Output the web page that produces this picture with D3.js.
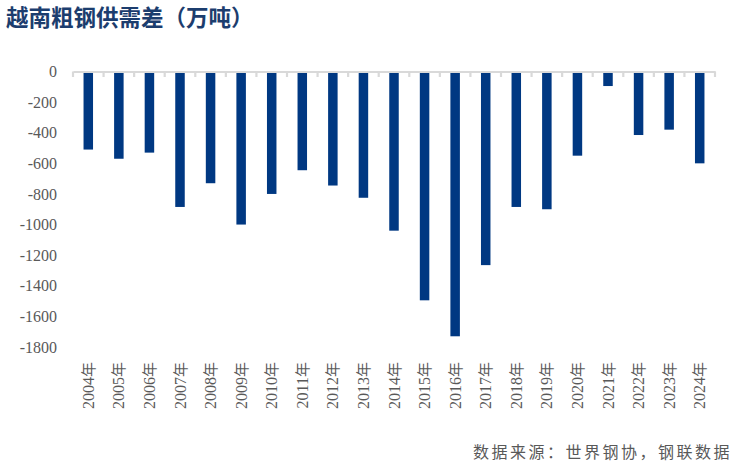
<!DOCTYPE html>
<html>
<head>
<meta charset="utf-8">
<script src="https://cdn.jsdelivr.net/npm/d3@7"></script>
<style>
  body { margin: 0; background: #fff; }
  svg { display: block; }
</style>
</head>
<body>
<div id="chart"></div>
<script>
// data
const years = ["2004年", "2005年", "2006年", "2007年", "2008年", "2009年", "2010年",
  "2011年", "2012年", "2013年", "2014年", "2015年", "2016年", "2017年",
  "2018年", "2019年", "2020年", "2021年", "2022年", "2023年", "2024年"];
const gap = [-510, -570, -530, -885, -730, -1000, -800,
  -645, -745, -825, -1040, -1495, -1730, -1265,
  -885, -900, -550, -95, -415, -380, -600];
const yTicks = [0, -200, -400, -600, -800, -1000, -1200, -1400, -1600, -1800];

const W = 738, H = 472;
const margin = {top: 71.5, left: 73, right: 23};
const plotBottom = 347;

const svg = d3.select("#chart").append("svg")
    .attr("width", W)
    .attr("height", H);

const x = d3.scaleBand()
    .domain(years)
    .range([margin.left, W - margin.right]);

const y = d3.scaleLinear()
    .domain([0, -1800])
    .range([margin.top, plotBottom]);

const barWidth = 9.5;

// title
svg.append("text")
    .attr("x", 6)
    .attr("y", 26)
    .attr("font-family", "'Noto Sans CJK SC'")
    .attr("font-weight", "bold")
    .attr("font-size", 22.5)
    .attr("fill", "#1c3d6e")
    .text("越南粗钢供需差（万吨）");

// y axis labels (no line)
svg.selectAll("text.yAxis")
    .data(yTicks)
    .enter().append("text")
    .attr("class", "yAxis")
    .attr("x", 57)
    .attr("y", d => y(d))
    .attr("dy", "0.35em")
    .attr("text-anchor", "end")
    .attr("font-family", "'Liberation Serif', serif")
    .attr("font-size", 16)
    .attr("fill", "#595959")
    .text(d => d);

// bars
svg.selectAll("rect.bar")
    .data(gap)
    .enter().append("rect")
    .attr("class", "bar")
    .attr("x", (d, i) => x(years[i]) + x.bandwidth() / 2 - barWidth / 2)
    .attr("y", y(0))
    .attr("width", barWidth)
    .attr("height", d => y(d) - y(0))
    .attr("fill", "#003882");

// category axis at zero
const xAxis = d3.axisTop(x).tickSize(0).tickFormat("");
const gx = svg.append("g")
    .attr("transform", `translate(0,${y(0)})`)
    .call(xAxis);
gx.select(".domain").attr("stroke", "#d9d9d9").attr("stroke-width", 2.2);

// tick marks between categories
const edges = years.map(d => x(d)).concat([x.range()[1]]);
svg.selectAll("line.tick")
    .data(edges)
    .enter().append("line")
    .attr("class", "tick")
    .attr("x1", d => d)
    .attr("x2", d => d)
    .attr("y1", y(0))
    .attr("y2", y(0) + 5.5)
    .attr("stroke", "#d9d9d9")
    .attr("stroke-width", 2.2);

// year labels, rotated
svg.selectAll("text.xLabel")
    .data(years)
    .enter().append("text")
    .attr("class", "xLabel")
    .attr("transform", d => `translate(${x(d) + x.bandwidth() / 2 + 5.5},362) rotate(-90)`)
    .attr("text-anchor", "end")
    .attr("fill", "#595959")
    .attr("font-size", 16)
    .each(function(d) {
      const t = d3.select(this);
      t.append("tspan").attr("font-family", "'Liberation Serif', serif").text(d.slice(0, 4));
      t.append("tspan").attr("font-family", "'Noto Sans CJK SC'").attr("font-size", 15).text(d.slice(4));
    });

// source note
svg.append("text")
    .attr("x", 732)
    .attr("y", 458)
    .attr("text-anchor", "end")
    .attr("font-family", "'Noto Sans CJK SC'")
    .attr("font-size", 16)
    .attr("letter-spacing", 2.5)
    .attr("fill", "#595959")
    .text("数据来源：世界钢协，钢联数据");
</script>
</body>
</html>
